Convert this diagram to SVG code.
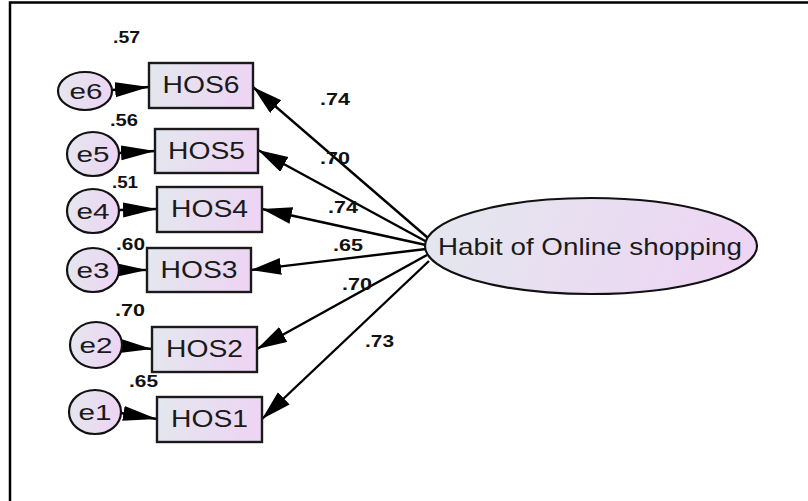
<svg xmlns="http://www.w3.org/2000/svg" width="808" height="501" viewBox="0 0 808 501">
<defs>
<linearGradient id="g" x1="0" y1="0" x2="1" y2="0.15">
<stop offset="0" stop-color="#e3e8ee"/>
<stop offset="1" stop-color="#edd5f3"/>
</linearGradient>
<marker id="big" markerUnits="userSpaceOnUse" markerWidth="32" markerHeight="18" refX="30" refY="8.5" orient="auto">
<path d="M0,0 L30,8.5 L0,17 z" fill="#000"/>
</marker>
<marker id="err" markerUnits="userSpaceOnUse" markerWidth="36" markerHeight="16" refX="34" refY="7.5" orient="auto">
<path d="M0,0 L34,7.5 L0,15 z" fill="#000"/>
</marker>
<style>
.box{fill:url(#g);stroke:#1a1a1a;stroke-width:2.4}
.ell{fill:url(#g);stroke:#111;stroke-width:2.2}
.t{font-family:"Liberation Sans",Arial,sans-serif;font-size:24px;fill:#1a1a1a;text-anchor:middle}
.te{font-family:"Liberation Sans",Arial,sans-serif;font-size:22px;fill:#1a1a1a;text-anchor:middle}
.n{font-family:"Liberation Sans",Arial,sans-serif;font-size:17px;font-weight:bold;fill:#111}
.le{stroke:#000;stroke-width:2.4;fill:none;marker-end:url(#err)}
.lb{stroke:#000;stroke-width:2.4;fill:none;marker-end:url(#big)}
</style>
</defs>
<rect width="808" height="501" fill="#fff"/>
<path d="M10,501 L10,2.5 L808,2.5" fill="none" stroke="#000" stroke-width="2.5"/>

<g id="connectors">
<line class="lb" x1="428" y1="238" x2="253" y2="87"/>
<line class="lb" x1="427" y1="242" x2="258" y2="150"/>
<line class="lb" x1="426" y1="245" x2="262" y2="209"/>
<line class="lb" x1="426" y1="249" x2="251" y2="270"/>
<line class="lb" x1="427" y1="255" x2="257" y2="349"/>
<line class="lb" x1="429" y1="261" x2="262" y2="419"/>
<line class="le" x1="112" y1="90" x2="149" y2="87"/>
<line class="le" x1="119" y1="153" x2="155" y2="151"/>
<line class="le" x1="120" y1="210" x2="157" y2="209"/>
<line class="le" x1="116" y1="270" x2="147" y2="270"/>
<line class="le" x1="121" y1="346" x2="152" y2="349"/>
<line class="le" x1="121" y1="413" x2="157" y2="419"/>
</g>

<g id="latent">
<ellipse class="ell" cx="591" cy="246" rx="166" ry="48"/>
<text class="t" x="590" y="255" textLength="304" lengthAdjust="spacingAndGlyphs">Habit of Online shopping</text>
</g>

<g id="HOS6"><rect class="box" x="149" y="63" width="104" height="45"/><text class="t" x="201" y="93" textLength="77" lengthAdjust="spacingAndGlyphs">HOS6</text></g>
<g id="HOS5"><rect class="box" x="155" y="129" width="103" height="44"/><text class="t" x="206.5" y="159" textLength="77" lengthAdjust="spacingAndGlyphs">HOS5</text></g>
<g id="HOS4"><rect class="box" x="157" y="187" width="105" height="45"/><text class="t" x="209.5" y="217" textLength="77" lengthAdjust="spacingAndGlyphs">HOS4</text></g>
<g id="HOS3"><rect class="box" x="147" y="248" width="104" height="44"/><text class="t" x="199" y="278" textLength="77" lengthAdjust="spacingAndGlyphs">HOS3</text></g>
<g id="HOS2"><rect class="box" x="152" y="327" width="105" height="45"/><text class="t" x="204.5" y="357" textLength="77" lengthAdjust="spacingAndGlyphs">HOS2</text></g>
<g id="HOS1"><rect class="box" x="157" y="397" width="105" height="45"/><text class="t" x="209.5" y="427" textLength="77" lengthAdjust="spacingAndGlyphs">HOS1</text></g>

<g id="e6"><ellipse class="ell" cx="85" cy="91" rx="27" ry="19"/><text class="te" x="86" y="99" textLength="33" lengthAdjust="spacingAndGlyphs">e6</text></g>
<g id="e5"><ellipse class="ell" cx="93" cy="154" rx="26" ry="22"/><text class="te" x="93" y="162" textLength="33" lengthAdjust="spacingAndGlyphs">e5</text></g>
<g id="e4"><ellipse class="ell" cx="93" cy="211" rx="26" ry="22"/><text class="te" x="93" y="219" textLength="33" lengthAdjust="spacingAndGlyphs">e4</text></g>
<g id="e3"><ellipse class="ell" cx="93" cy="270" rx="26" ry="22"/><text class="te" x="93" y="278" textLength="33" lengthAdjust="spacingAndGlyphs">e3</text></g>
<g id="e2"><ellipse class="ell" cx="96" cy="345" rx="26" ry="23"/><text class="te" x="96" y="353" textLength="33" lengthAdjust="spacingAndGlyphs">e2</text></g>
<g id="e1"><ellipse class="ell" cx="95" cy="412" rx="26" ry="22"/><text class="te" x="95" y="420" textLength="33" lengthAdjust="spacingAndGlyphs">e1</text></g>

<g id="labels">
<text class="n" x="113" y="43" textLength="27" lengthAdjust="spacingAndGlyphs">.57</text>
<text class="n" x="110" y="126" textLength="28" lengthAdjust="spacingAndGlyphs">.56</text>
<text class="n" x="112" y="188" textLength="26" lengthAdjust="spacingAndGlyphs">.51</text>
<text class="n" x="116" y="250" textLength="29" lengthAdjust="spacingAndGlyphs">.60</text>
<text class="n" x="115" y="316" textLength="30" lengthAdjust="spacingAndGlyphs">.70</text>
<text class="n" x="129" y="387" textLength="29" lengthAdjust="spacingAndGlyphs">.65</text>
<text class="n" x="320" y="105" textLength="30" lengthAdjust="spacingAndGlyphs">.74</text>
<text class="n" x="320" y="164" textLength="30" lengthAdjust="spacingAndGlyphs">.70</text>
<text class="n" x="328" y="213" textLength="30" lengthAdjust="spacingAndGlyphs">.74</text>
<text class="n" x="333" y="251" textLength="30" lengthAdjust="spacingAndGlyphs">.65</text>
<text class="n" x="342" y="290" textLength="30" lengthAdjust="spacingAndGlyphs">.70</text>
<text class="n" x="365" y="347" textLength="29" lengthAdjust="spacingAndGlyphs">.73</text>
</g>
</svg>
